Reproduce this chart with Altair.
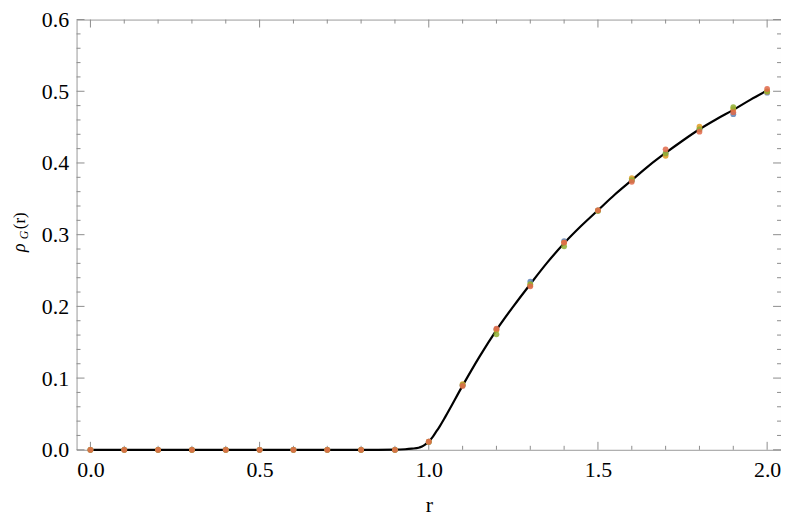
import altair as alt
import pandas as pd

# ---- data ----
r_values = [0.0, 0.1, 0.2, 0.3, 0.4, 0.5, 0.6, 0.7, 0.8, 0.9, 1.0,
            1.1, 1.2, 1.3, 1.4, 1.5, 1.6, 1.7, 1.8, 1.9, 2.0]
series_names = ["s1", "s2", "s3", "s4"]
series_colors = ["#5E81B5", "#E19C24", "#8FB032", "#E0694A"]
s1_vals = [0, 0, 0, 0, 0, 0, 0, 0, 0, 0, 0.0113,
           0.090, 0.168, 0.2346, 0.291, 0.334, 0.376, 0.413, 0.447, 0.468, 0.498]
s2_vals = [0, 0, 0, 0, 0, 0, 0, 0, 0, 0, 0.0115,
           0.0914, 0.167, 0.230, 0.289, 0.334, 0.3787, 0.410, 0.4505, 0.475, 0.4995]
s3_vals = [0, 0, 0, 0, 0, 0, 0, 0, 0, 0, 0.0110,
           0.090, 0.161, 0.231, 0.2837, 0.333, 0.376, 0.4136, 0.447, 0.4777, 0.500]
s4_vals = [0, 0, 0, 0, 0, 0, 0, 0, 0, 0, 0.0112,
           0.089, 0.169, 0.228, 0.289, 0.334, 0.3737, 0.419, 0.4436, 0.4709, 0.5032]

curve_r = [0.0, 0.5, 0.85, 0.9, 0.93, 0.95, 0.97, 0.98, 0.99, 1.0, 1.01, 1.02,
           1.03, 1.05, 1.1, 1.15, 1.2, 1.25, 1.3, 1.35, 1.4, 1.45, 1.5, 1.55,
           1.6, 1.65, 1.7, 1.75, 1.8, 1.85, 1.9, 1.95, 2.0]
curve_rho = [0.0, 0.0, 0.0, 0.0002, 0.0008, 0.0016, 0.0028, 0.0045, 0.0075,
             0.0115, 0.017, 0.024, 0.031, 0.047, 0.0895, 0.130, 0.167, 0.200,
             0.231, 0.261, 0.288, 0.312, 0.334, 0.356, 0.376, 0.396, 0.414,
             0.431, 0.447, 0.461, 0.474, 0.488, 0.501]

x_label_values = [0.0, 0.5, 1.0, 1.5, 2.0]
x_minor_ticks = [0.1, 0.2, 0.3, 0.4, 0.6, 0.7, 0.8, 0.9,
                 1.1, 1.2, 1.3, 1.4, 1.6, 1.7, 1.8, 1.9]
y_label_values = [0.0, 0.1, 0.2, 0.3, 0.4, 0.5, 0.6]
y_minor_ticks = [0.02, 0.04, 0.06, 0.08, 0.12, 0.14, 0.16, 0.18,
                 0.22, 0.24, 0.26, 0.28, 0.32, 0.34, 0.36, 0.38,
                 0.42, 0.44, 0.46, 0.48, 0.52, 0.54, 0.56, 0.58]

# ---- layout ----
W, H = 709, 433
FONT = "Liberation Serif, Times New Roman, serif"
TICK = "#8c8c8c"

rows = []
for name, vals in zip(series_names, [s1_vals, s2_vals, s3_vals, s4_vals]):
    for rv, v in zip(r_values, vals):
        rows.append({"r": rv, "rho": v, "series": name})
pts_df = pd.DataFrame(rows)
curve_df = pd.DataFrame({"r": curve_r, "rho": curve_rho})

xs = alt.Scale(domain=[-0.041, 2.041], nice=False, zero=False)
ys = alt.Scale(domain=[0, 0.6], nice=False, zero=False)
xaxis = alt.Axis(values=x_label_values, format=".1f", title="r",
                 titleFont=FONT, titleFontSize=22, titleFontWeight="normal",
                 titleColor="black", titleBaseline="alphabetic", titleY=62,
                 labelPadding=10)
yaxis = alt.Axis(values=y_label_values, format=".1f", title=None, labelPadding=8)

line = alt.Chart(curve_df).mark_line(color="black", strokeWidth=2.2,
                                     interpolate="monotone").encode(
    x=alt.X("r:Q", scale=xs, axis=xaxis),
    y=alt.Y("rho:Q", scale=ys, axis=yaxis),
)

points = alt.Chart(pts_df).mark_circle(size=34, opacity=0.85).encode(
    x=alt.X("r:Q", scale=xs, axis=xaxis),
    y=alt.Y("rho:Q", scale=ys, axis=yaxis),
    color=alt.Color("series:N", scale=alt.Scale(domain=series_names,
                                                range=series_colors),
                    legend=None),
)

def xticks(vals, length, top):
    df = pd.DataFrame({"r": vals})
    if top:
        y1, y2 = alt.value(0), alt.value(length)
    else:
        y1, y2 = alt.value(H), alt.value(H - length)
    return alt.Chart(df).mark_rule(color=TICK, strokeWidth=1).encode(
        x=alt.X("r:Q", scale=xs, axis=xaxis), y=y1, y2=y2)

def yticks(vals, length, right):
    df = pd.DataFrame({"rho": vals})
    if right:
        x1, x2 = alt.value(W), alt.value(W - length)
    else:
        x1, x2 = alt.value(0), alt.value(length)
    return alt.Chart(df).mark_rule(color=TICK, strokeWidth=1).encode(
        y=alt.Y("rho:Q", scale=ys, axis=yaxis), x=x1, x2=x2)

ticks = [
    xticks(x_label_values, 8, False), xticks(x_minor_ticks, 4, False),
    xticks(x_label_values, 8, True), xticks(x_minor_ticks, 4, True),
    yticks(y_label_values, 8, False), yticks(y_minor_ticks, 4, False),
    yticks(y_label_values, 8, True), yticks(y_minor_ticks, 4, True),
]

# y-axis title: rho_G(r), rotated
title_parts = [
    ("\u03c1", -52, 234, 18, "italic"),
    ("G", -48.5, 221, 12, "italic"),
    ("(r)", -52, 211, 17, "normal"),
]
title_layers = []
for txt, tx, ty, fs, style in title_parts:
    title_layers.append(
        alt.Chart(pd.DataFrame({"t": [txt]})).mark_text(
            angle=270, align="left", baseline="alphabetic", font=FONT,
            fontSize=fs, fontStyle=style, color="black").encode(
            text="t:N", x=alt.value(tx), y=alt.value(ty))
    )

chart = alt.layer(*ticks, line, points, *title_layers).properties(
    width=W, height=H,
    autosize=alt.AutoSizeParams(type="none"),
    padding={"left": 69, "top": 10, "right": 0, "bottom": 67},
).configure_view(
    stroke="#999999", strokeWidth=1
).configure_axis(
    grid=False, ticks=False, domain=False,
    labelFont=FONT, labelFontSize=22, labelColor="black",
)

chart.save("out.html", embed_options={"renderer": "svg", "actions": False})
